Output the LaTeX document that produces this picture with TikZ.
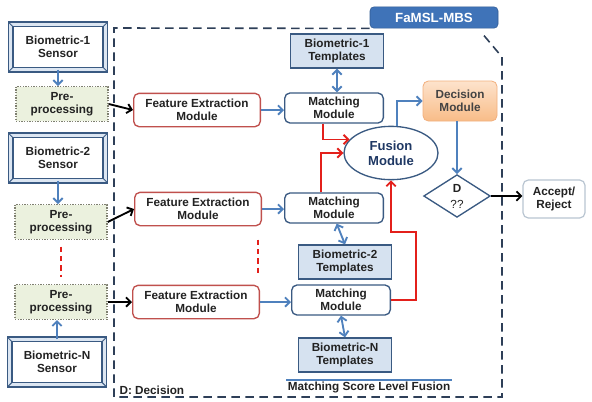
\documentclass[tikz,border=0pt]{standalone}
\usepackage{fontspec}
\setmainfont{Liberation Sans}
\usepackage{tikz}
\usetikzlibrary{shapes.geometric,arrows.meta}
\definecolor{FrameSlate}{HTML}{2E3F58}
\definecolor{SensorBlue}{HTML}{3A5A82}
\definecolor{SensorStrip}{HTML}{DCE6F2}
\definecolor{TemplFill}{HTML}{D6E2F0}
\definecolor{FeRed}{HTML}{C0504D}
\definecolor{PreFill}{HTML}{EBF1DE}
\definecolor{PreDot}{HTML}{7F8070}
\definecolor{ArrowBlue}{HTML}{4F81BD}
\definecolor{ArrowRed}{HTML}{E3201B}
\definecolor{TabBlue}{HTML}{3F73B8}
\definecolor{DecTop}{HTML}{FDE3CC}
\definecolor{DecBot}{HTML}{F8BC88}
\definecolor{DecEdge}{HTML}{F2B07E}
\definecolor{AccEdge}{HTML}{B9C5D1}
\definecolor{TextDark}{HTML}{222222}
\definecolor{FusionText}{HTML}{1F3864}

\begin{document}
\begin{tikzpicture}[x=0.75pt, y=-0.75pt,
    every node/.style={font=\fontsize{8.8}{10}\selectfont\bfseries, text=TextDark,
      align=center, inner sep=1pt},
    bevel/.style={draw=SensorBlue, line width=0.7pt},
    sensor/.style={draw=SensorBlue, line width=1pt, double=SensorStrip, double distance=2.5pt,
      fill=white, outer sep=0pt, minimum width=71pt, minimum height=34pt,
      append after command={
        ([shift={(1.75pt,-1.75pt)}]\tikzlastnode.north west) edge[bevel] +(-3.5pt,3.5pt)
        ([shift={(-1.75pt,-1.75pt)}]\tikzlastnode.north east) edge[bevel] +(3.5pt,3.5pt)
        ([shift={(1.75pt,1.75pt)}]\tikzlastnode.south west) edge[bevel] +(-3.5pt,-3.5pt)
        ([shift={(-1.75pt,1.75pt)}]\tikzlastnode.south east) edge[bevel] +(3.5pt,-3.5pt)}},
    preproc/.style={draw=PreDot, line width=1pt, dash pattern=on 1pt off 1pt, fill=PreFill,
      minimum width=69pt, minimum height=26pt},
    feat/.style={draw=FeRed, line width=1pt, rounded corners=4pt, fill=white,
      minimum width=95pt, minimum height=25pt},
    matchbox/.style={draw=SensorBlue, line width=1pt, rounded corners=4pt, fill=white,
      minimum width=74pt, minimum height=22.5pt},
    templ/.style={draw=SensorBlue, line width=1pt, fill=TemplFill,
      minimum width=70pt, minimum height=25.5pt},
    fusion/.style={ellipse, draw=SensorBlue, line width=1pt, fill=white, inner sep=0pt,
      minimum width=70.5pt, minimum height=40pt, text=FusionText,
      font=\fontsize{9.8}{11.5}\selectfont\bfseries},
    decide/.style={draw=DecEdge, line width=0.6pt, rounded corners=4pt, top color=DecTop,
      bottom color=DecBot, minimum width=55.5pt, minimum height=30pt, text=TextDark!85},
    dbox/.style={diamond, draw=SensorBlue, line width=1pt, fill=white, inner sep=0pt,
      minimum width=50pt, minimum height=32pt, font=\fontsize{8.8}{12}\selectfont\bfseries},
    result/.style={draw=AccEdge, line width=0.9pt, rounded corners=4pt, fill=white,
      minimum width=46.5pt, minimum height=28.5pt},
    tabbox/.style={fill=TabBlue, draw=TabBlue!80!black, rounded corners=3pt, text=white,
      minimum width=96pt, minimum height=16pt, font=\fontsize{10}{12}\selectfont\bfseries},
    barrow/.style={-{Straight Barb[length=3.5pt,width=7pt]}, line width=1.4pt, draw=ArrowBlue},
    darrow/.style={{Straight Barb[length=3.5pt,width=7pt]}-{Straight Barb[length=3.5pt,width=7pt]},
      line width=1.4pt, draw=ArrowBlue},
    rarrow/.style={-{Straight Barb[length=3.5pt,width=7pt]}, line width=1.4pt, draw=ArrowRed},
    karrow/.style={-{Straight Barb[length=3.5pt,width=7pt]}, line width=1.4pt, draw=black},
    reddots/.style={draw=ArrowRed, line width=1.6pt, dash pattern=on 4pt off 3pt},
    outline/.style={draw=FrameSlate, line width=1.2pt, dash pattern=on 6.5pt off 4pt},
    rule/.style={draw=ArrowBlue, line width=1.6pt}
  ]
    \path[fill=white, use as bounding box] (0,0) rectangle (592,401);

    % sensors and pre-processing
    \node[sensor] (s1) at (58,47) {Biometric-1\\Sensor};
    \node[sensor] (s2) at (58,158) {Biometric-2\\Sensor};
    \node[sensor] (sn) at (57,362) {Biometric-N\\Sensor};
    \node[preproc] (p1) at (62,104) {Pre-\\processing};
    \node[preproc] (p2) at (61,222) {Pre-\\processing};
    \node[preproc] (pn) at (61,302) {Pre-\\processing};

    % FaMSL-MBS system
    \node[tabbox] (famsl) at (434,17.5) {FaMSL-MBS};
    \coordinate (fr1) at (114,28);
    \coordinate (fr2) at (114,397);
    \coordinate (fr3) at (502,397);
    \coordinate (fr4) at (502,57);
    \coordinate (fr5) at (481,32);
    \draw[outline] (famsl.south west) -- (fr1) -- (fr2) -- (fr3) -- (fr4) -- (fr5);

    \node[feat] (f1) at (197,110) {Feature Extraction\\Module};
    \node[feat] (f2) at (198,209) {Feature Extraction\\Module};
    \node[feat] (fn) at (196,302) {Feature Extraction\\Module};
    \node[matchbox] (m1) at (334,108) {Matching\\Module};
    \node[matchbox] (m2) at (334,208) {Matching\\Module};
    \node[matchbox] (mn) at (341,300) {Matching\\Module};
    \node[templ] (t1) at (337,51) {Biometric-1\\Templates};
    \node[templ] (t2) at (345,262) {Biometric-2\\Templates};
    \node[templ] (tn) at (345,355) {Biometric-N\\Templates};
    \node[fusion] (fus) at (391,153) {Fusion\\Module};
    \node[decide] (dec) at (460,101) {Decision\\Module};
    \node[dbox] (d) at (457,196) {D\\{\mdseries ??}};
    \node[result] (acc) at (554,199) {Accept/\\Reject};
    \node[anchor=west] (dlbl) at (118,390) {D: Decision};
    \node (msl) at (369,387) {Matching Score Level Fusion};
    \draw[rule] (msl.north west) -- (msl.north east);

    % connectors
    \draw[barrow] (s1.south) -- (s1.south |- p1.north);
    \draw[barrow] (s2.south) -- (s2.south |- p2.north);
    \draw[barrow] (sn.north) -- (sn.north |- pn.south);
    \draw[karrow] (p1.east) -- (f1.west);
    \draw[karrow] (p2.east) -- (f2.west);
    \draw[karrow] (pn) -- (fn);
    \draw[barrow] (f1.east) -- (f1.east -| m1.west);
    \draw[barrow] (f2.east) -- (f2.east -| m2.west);
    \draw[barrow] (fn.east) -- (fn.east -| mn.west);
    \draw[darrow] (t1.south) -- (t1.south |- m1.north);
    \draw[darrow] ([xshift=2pt]m2.south) -- (t2.north);
    \draw[darrow] (mn.south) -- (tn.north);
    \draw[rarrow] ([xshift=-8pt]m1.south) |- (fus.162);
    \draw[rarrow] ([xshift=-10pt]m2.north) |- (fus.west);
    \coordinate (rbend) at (416,232);
    \draw[rarrow] (mn.east) -| (rbend) -| (fus.south);
    \draw[barrow] ([xshift=4.5pt]fus.north) |- (dec.west);
    \draw[barrow] (d.north |- dec.south) -- (d.north);
    \draw[karrow] (d.east) -- (d.east -| acc.west);
    \draw[reddots, shorten <=5pt, shorten >=5pt] (p2.south) -- (pn.north);
    \draw[reddots, shorten <=10pt, shorten >=9pt] ([xshift=-3pt]f2.south east)
      -- ([xshift=-3pt]f2.south east |- fn.north);
\end{tikzpicture}
\end{document}
